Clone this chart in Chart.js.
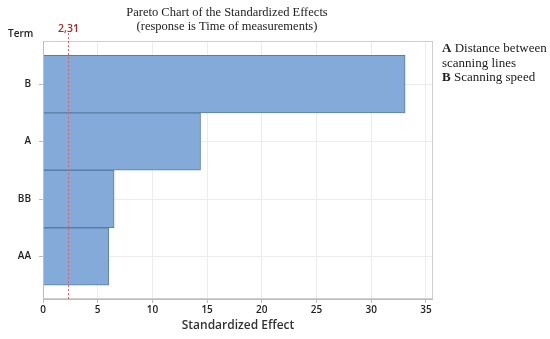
<!DOCTYPE html>
<html>
<head>
<meta charset="utf-8">
<script src="https://cdn.jsdelivr.net/npm/chart.js@4"></script>
<style>
html,body{margin:0;padding:0;background:#fff;}
#wrap{width:550px;height:339px;position:relative;}
</style>
</head>
<body>
<div id="wrap"><canvas id="c" width="550" height="339"></canvas></div>
<script>
const terms = ["B", "A", "BB", "AA"];
const effects = [33.1, 14.4, 6.5, 6.0];
const xTicks = [0, 5, 10, 15, 20, 25, 30, 35];
const criticalValue = 2.31;
const criticalLabel = "2,31";
const titleLines = ["Pareto Chart of the Standardized Effects", "(response is Time of measurements)"];
const legendLines = [["A", " Distance between"], ["", "scanning lines"], ["B", " Scanning speed"]];
const xTitle = "Standardized Effect";
const yTitle = "Term";

const SANS = "'Open Sans', 'Noto Sans', sans-serif";
const SERIF = "'Liberation Serif', 'DejaVu Serif', serif";

const points = terms.map((t, i) => ({x: effects[i], y: i + 1}));

const annot = {
  id: 'annot',
  afterDraw(chart) {
    const ctx = chart.ctx;
    const a = chart.chartArea;
    const xs = chart.scales.x;
    ctx.save();
    // frame
    ctx.strokeStyle = '#cfcfcf';
    ctx.lineWidth = 1;
    ctx.strokeRect(a.left + 0.5, a.top + 0.5, a.right - a.left - 1, a.bottom - a.top - 1);
    // left & bottom axis
    ctx.strokeStyle = '#bdbdbd';
    ctx.beginPath();
    ctx.moveTo(a.left + 0.5, a.top); ctx.lineTo(a.left + 0.5, a.bottom + 0.5);
    ctx.lineTo(a.right, a.bottom + 0.5);
    ctx.stroke();
    // critical line
    const cx = Math.round(xs.getPixelForValue(criticalValue)) + 0.5;
    ctx.strokeStyle = '#e06464';
    ctx.setLineDash([2, 2]);
    ctx.beginPath();
    ctx.moveTo(cx, a.top - 8); ctx.lineTo(cx, a.bottom);
    ctx.stroke();
    ctx.setLineDash([]);
    ctx.fillStyle = '#a8282b';
    ctx.font = '600 10.5px ' + SANS;
    ctx.textAlign = 'center';
    ctx.textBaseline = 'alphabetic';
    ctx.fillText(criticalLabel, cx, a.top - 9);
    // Term label
    ctx.fillStyle = '#222';
    ctx.font = '600 10px ' + SANS;
    ctx.textAlign = 'left';
    ctx.fillText(yTitle, 8, 37);
    // title
    ctx.fillStyle = '#222';
    ctx.font = '12.5px ' + SERIF;
    ctx.textAlign = 'center';
    ctx.fillText(titleLines[0], 227, 16);
    ctx.fillText(titleLines[1], 227, 30);
    // legend
    ctx.textAlign = 'left';
    const lx = 442;
    legendLines.forEach((ln, i) => {
      const y = 52 + i * 14.5;
      let x = lx;
      if (ln[0]) {
        ctx.font = 'bold 13px ' + SERIF;
        ctx.fillText(ln[0], x, y);
        x += ctx.measureText(ln[0]).width;
      }
      ctx.font = '13px ' + SERIF;
      ctx.fillText(ln[1], x, y);
    });
    ctx.restore();
  }
};

new Chart(document.getElementById('c'), {
  type: 'bar',
  data: {
    datasets: [{
      data: points,
      backgroundColor: '#84aad9',
      borderColor: '#5a7ca8',
      borderWidth: 1,
      barPercentage: 1,
      categoryPercentage: 1
    }]
  },
  options: {
    indexAxis: 'y',
    responsive: false,
    animation: false,
    layout: {padding: {left: 0, right: 117, top: 41, bottom: 6}},
    plugins: {legend: {display: false}, tooltip: {enabled: false}, title: {display: false}},
    scales: {
      x: {
        type: 'linear',
        min: 0,
        max: 35.65,
        afterBuildTicks(s) { s.ticks = xTicks.map(v => ({value: v})); },
        afterFit(s) { s.height = 34; },
        grid: {color: '#ececec', drawTicks: true, tickLength: 4, tickColor: '#bdbdbd', drawOnChartArea: true},
        border: {display: false},
        ticks: {color: '#222', font: {family: SANS, size: 10, weight: '600'}, padding: 1, maxRotation: 0},
        title: {display: true, text: xTitle, color: '#333', font: {family: SANS, size: 12, weight: '600'}, padding: {top: 0, bottom: 0}}
      },
      y: {
        type: 'linear',
        reverse: true,
        offset: false,
        min: 0.25,
        max: 4.74,
        afterBuildTicks(s) { s.ticks = terms.map((t, i) => ({value: i + 1})); },
        afterFit(s) { s.width = 43; },
        grid: {color: '#ececec', offset: false, drawTicks: true, tickLength: 4, tickColor: '#bdbdbd'},
        border: {display: false},
        ticks: {
          color: '#222',
          font: {family: SANS, size: 10, weight: '600'},
          padding: 8,
          callback: (v) => terms[v - 1]
        }
      }
    }
  },
  plugins: [annot]
});
</script>
</body>
</html>
